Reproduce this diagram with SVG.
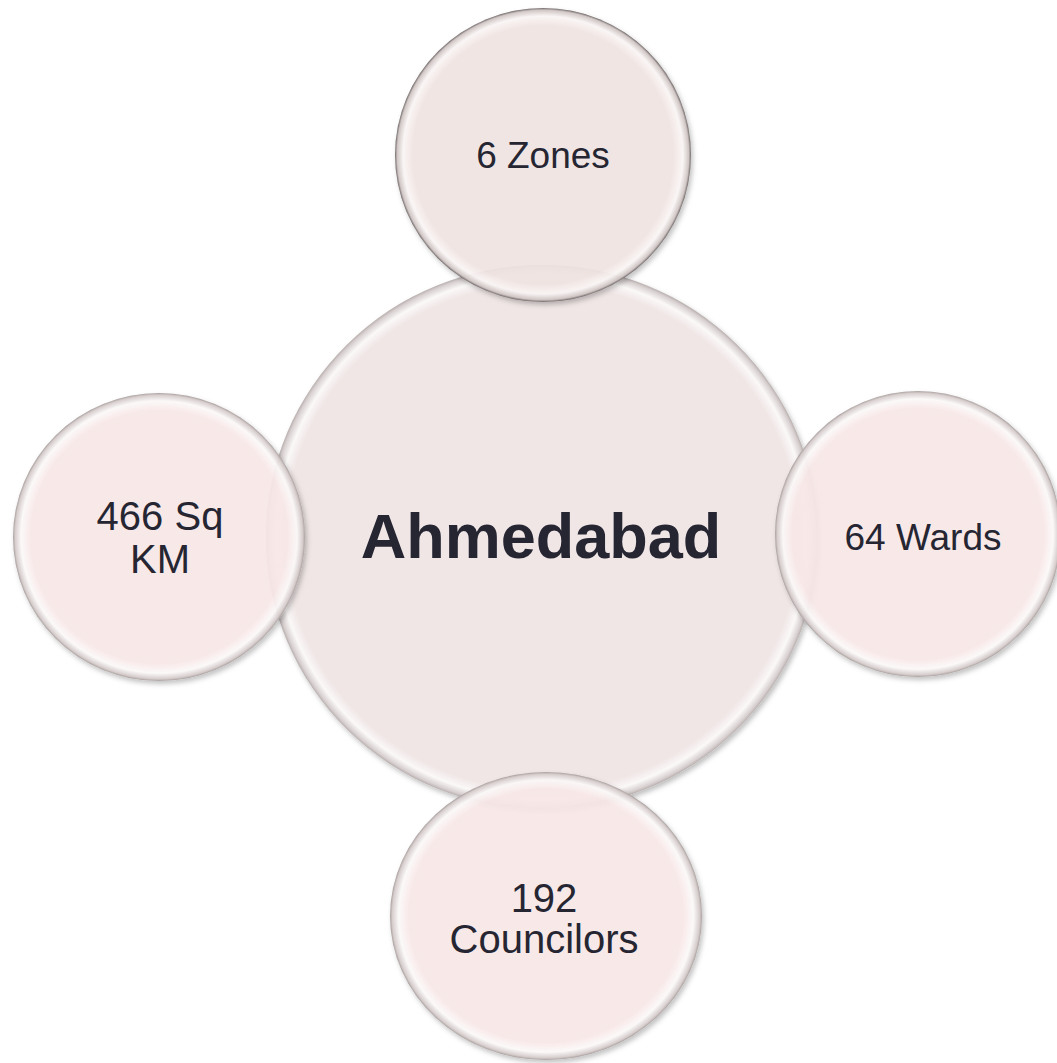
<svg xmlns="http://www.w3.org/2000/svg" width="1057" height="1063" viewBox="0 0 1057 1063">
<defs>
<radialGradient id="gMain" cx="0.5" cy="0.5" r="0.5">
<stop offset="0" stop-color="#f0e6e6"/>
<stop offset="0.93" stop-color="#f0e6e6"/>
<stop offset="0.965" stop-color="#fbf8f8"/>
<stop offset="0.99" stop-color="#d8d0d0"/>
<stop offset="1" stop-color="#b8aeae"/>
</radialGradient>
<radialGradient id="gSat" cx="0.5" cy="0.5" r="0.5">
<stop offset="0" stop-color="#fbeaea" stop-opacity="0.9"/>
<stop offset="0.88" stop-color="#fbeaea" stop-opacity="0.9"/>
<stop offset="0.945" stop-color="#fdfafa" stop-opacity="0.92"/>
<stop offset="0.985" stop-color="#d6cccc" stop-opacity="0.95"/>
<stop offset="1" stop-color="#a89e9e" stop-opacity="1"/>
</radialGradient>
<radialGradient id="gTop" cx="0.5" cy="0.5" r="0.5">
<stop offset="0" stop-color="#f2e6e4" stop-opacity="0.9"/>
<stop offset="0.88" stop-color="#f2e6e4" stop-opacity="0.9"/>
<stop offset="0.945" stop-color="#fbf7f6" stop-opacity="0.92"/>
<stop offset="0.985" stop-color="#cfc5c4" stop-opacity="0.95"/>
<stop offset="1" stop-color="#6e6666" stop-opacity="1"/>
</radialGradient>
<filter id="sh" x="-10%" y="-10%" width="120%" height="120%">
<feDropShadow dx="2" dy="3" stdDeviation="2.5" flood-color="#000" flood-opacity="0.25"/>
</filter>
</defs>
<style>
.lbl{font-family:"Liberation Sans",Arial,sans-serif;fill:#262633;text-anchor:middle}
.main{font-size:63px;font-weight:bold}
.s1{font-size:37px}
.s2{font-size:40px}
</style>
<rect width="1057" height="1063" fill="#ffffff"/>
<g id="connectors"/>
<g id="node-ahmedabad">
<ellipse cx="542" cy="537" rx="276" ry="272" fill="url(#gMain)" filter="url(#sh)"/>
<text class="lbl main" x="541" y="558">Ahmedabad</text>
</g>
<g id="node-zones">
<ellipse cx="543" cy="155" rx="148" ry="147" fill="url(#gTop)" filter="url(#sh)"/>
<text class="lbl s1" x="543" y="168">6 Zones</text>
</g>
<g id="node-area">
<ellipse cx="159" cy="537" rx="146" ry="144" fill="url(#gSat)" filter="url(#sh)"/>
<text class="lbl s2" x="160" y="530">466 Sq</text>
<text class="lbl s2" x="160" y="573">KM</text>
</g>
<g id="node-wards">
<ellipse cx="918" cy="534" rx="143" ry="143" fill="url(#gSat)" filter="url(#sh)"/>
<text class="lbl s1" x="923" y="550">64 Wards</text>
</g>
<g id="node-councilors">
<ellipse cx="546" cy="916" rx="156" ry="144" fill="url(#gSat)" filter="url(#sh)"/>
<text class="lbl s2" x="544" y="912">192</text>
<text class="lbl s2" x="544" y="953">Councilors</text>
</g>
</svg>
